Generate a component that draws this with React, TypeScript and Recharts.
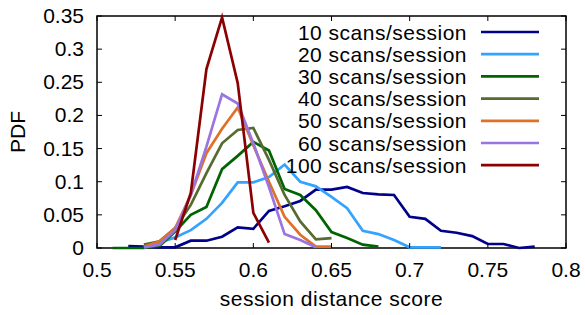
import { LineChart, Line, XAxis, YAxis, Legend, ReferenceArea, Label } from "recharts";

// session distance score, one point every 0.01
const scores = [
  0.51, 0.52, 0.53, 0.54, 0.55, 0.56, 0.57, 0.58, 0.59, 0.6, 0.61, 0.62, 0.63, 0.64,
  0.65, 0.66, 0.67, 0.68, 0.69, 0.7, 0.71, 0.72, 0.73, 0.74, 0.75, 0.76, 0.77, 0.78,
];

const s10 = [
  null, 0.003, 0.002, 0.001, 0.001, 0.011, 0.011, 0.017, 0.031, 0.029, 0.056, 0.063, 0.071, 0.088,
  0.088, 0.092, 0.083, 0.081, 0.08, 0.047, 0.044, 0.026, 0.023, 0.018, 0.006, 0.006, 0.0, 0.002,
];
const s20 = [
  null, null, 0.002, 0.008, 0.016, 0.027, 0.044, 0.068, 0.099, 0.099, 0.107, 0.126, 0.1, 0.093,
  0.077, 0.06, 0.026, 0.021, 0.012, 0.001, 0.001, 0.001, null, null, null, null, null, null,
];
const s30 = [
  0.0, 0.0, 0.0, 0.003, 0.025, 0.05, 0.062, 0.119, 0.139, 0.16, 0.147, 0.089, 0.08, 0.057,
  0.024, 0.015, 0.005, 0.002, null, null, null, null, null, null, null, null, null, null,
];
const s40 = [
  null, null, 0.005, 0.01, 0.03, 0.065, 0.113, 0.158, 0.178, 0.181, 0.133, 0.08, 0.04, 0.013,
  0.015, null, null, null, null, null, null, null, null, null, null, null, null, null,
];
const s50 = [
  null, null, 0.002, 0.01, 0.03, 0.08, 0.143, 0.18, 0.212, 0.155, 0.1, 0.047, 0.02, 0.002,
  0.002, null, null, null, null, null, null, null, null, null, null, null, null, null,
];
const s60 = [
  null, null, 0.001, 0.005, 0.027, 0.08, 0.153, 0.232, 0.218, 0.158, 0.092, 0.021, 0.012, 0.001,
  null, null, null, null, null, null, null, null, null, null, null, null, null, null,
];
const s100 = [
  null, null, null, null, 0.012, 0.083, 0.27, 0.348, 0.249, 0.053, 0.008, null, null, null,
  null, null, null, null, null, null, null, null, null, null, null, null, null, null,
];

const xTicks = [0.5, 0.55, 0.6, 0.65, 0.7, 0.75, 0.8];
const yTicks = [0, 0.05, 0.1, 0.15, 0.2, 0.25, 0.3, 0.35];

const series = [
  { key: "s10", name: "10 scans/session", values: s10, color: "#00008b" },
  { key: "s20", name: "20 scans/session", values: s20, color: "#33a3ff" },
  { key: "s30", name: "30 scans/session", values: s30, color: "#006400" },
  { key: "s40", name: "40 scans/session", values: s40, color: "#556b2f" },
  { key: "s50", name: "50 scans/session", values: s50, color: "#e07028" },
  { key: "s60", name: "60 scans/session", values: s60, color: "#9a74e0" },
  { key: "s100", name: "100 scans/session", values: s100, color: "#8b0000" },
];

const data = scores.map((x, i) => {
  const row: Record<string, number | null> = { x };
  series.forEach((s) => (row[s.key] = s.values[i]));
  return row;
});

const FONT = "'Liberation Sans', Arial, sans-serif";
const FS = 21;
const LS = 0.5;
const PLOT_TOP = 16;
const PLOT_BOTTOM = 248;
const PLOT_LEFT = 97;
const PLOT_RIGHT = 566;
const TICK = 5;

const XTick = ({ x, payload }: any) => (
  <g>
    <line x1={x} y1={PLOT_BOTTOM} x2={x} y2={PLOT_BOTTOM - TICK} stroke="#000" strokeWidth={1} />
    <line x1={x} y1={PLOT_TOP} x2={x} y2={PLOT_TOP + TICK} stroke="#000" strokeWidth={1} />
    <text x={x} y={277} textAnchor="middle" fontFamily={FONT} fontSize={FS} fill="#000">
      {String(payload.value)}
    </text>
  </g>
);

const YTick = ({ y, payload }: any) => (
  <g>
    <line x1={PLOT_LEFT} y1={y} x2={PLOT_LEFT + TICK} y2={y} stroke="#000" strokeWidth={1} />
    <line x1={PLOT_RIGHT} y1={y} x2={PLOT_RIGHT - TICK} y2={y} stroke="#000" strokeWidth={1} />
    <text x={84} y={y + 7} textAnchor="end" fontFamily={FONT} fontSize={FS} fill="#000">
      {String(payload.value)}
    </text>
  </g>
);

// legend rows in plotting order (Recharts would sort them by name)
const LegendBox = () => (
  <svg width={280} height={170} style={{ display: "block" }}>
    {series.map((s, i) => {
      const cy = 12 + i * 22.2;
      return (
        <g key={s.key}>
          <text
            x={187}
            y={cy + 7.5}
            textAnchor="end"
            fontFamily={FONT}
            fontSize={FS}
            letterSpacing={LS}
            fill="#000"
          >
            {s.name}
          </text>
          <line x1={201} y1={cy} x2={259} y2={cy} stroke={s.color} strokeWidth={2.7} />
        </g>
      );
    })}
  </svg>
);

export default function App() {
  return (
    <div style={{ position: "absolute", left: 0, top: 0, background: "#fff" }}>
      <LineChart
        width={585}
        height={315}
        data={data}
        margin={{ top: PLOT_TOP, right: 585 - PLOT_RIGHT, bottom: 0, left: 0 }}
      >
        <XAxis
          dataKey="x"
          type="number"
          domain={[0.5, 0.8]}
          ticks={xTicks}
          interval={0}
          height={315 - PLOT_BOTTOM}
          axisLine={false}
          tickLine={false}
          tickSize={0}
          tick={<XTick />}
        >
          <Label
            content={({ viewBox }: any) => (
              <text
                x={viewBox.x + viewBox.width / 2}
                y={306}
                textAnchor="middle"
                fontFamily={FONT}
                fontSize={FS}
                letterSpacing={LS}
                fill="#000"
              >
                session distance score
              </text>
            )}
          />
        </XAxis>
        <YAxis
          type="number"
          domain={[0, 0.35]}
          ticks={yTicks}
          interval={0}
          width={PLOT_LEFT}
          axisLine={false}
          tickLine={false}
          tickSize={0}
          tick={<YTick />}
        >
          <Label
            content={() => (
              <text
                x={25}
                y={(PLOT_TOP + PLOT_BOTTOM) / 2}
                transform={`rotate(-90 25 ${(PLOT_TOP + PLOT_BOTTOM) / 2})`}
                textAnchor="middle"
                fontFamily={FONT}
                fontSize={FS}
                fill="#000"
              >
                PDF
              </text>
            )}
          />
        </YAxis>
        {series.map((s) => (
          <Line
            key={s.key}
            dataKey={s.key}
            name={s.name}
            type="linear"
            stroke={s.color}
            strokeWidth={2.7}
            dot={false}
            activeDot={false}
            isAnimationActive={false}
          />
        ))}
        <ReferenceArea
          x1={0.5}
          x2={0.8}
          y1={0}
          y2={0.35}
          fill="none"
          fillOpacity={0}
          stroke="#000"
          strokeWidth={1.5}
        />
        <Legend
          layout="vertical"
          align="center"
          verticalAlign="middle"
          content={<LegendBox />}
          wrapperStyle={{ top: 20, left: 280, width: 280, height: 170 }}
        />
      </LineChart>
    </div>
  );
}
